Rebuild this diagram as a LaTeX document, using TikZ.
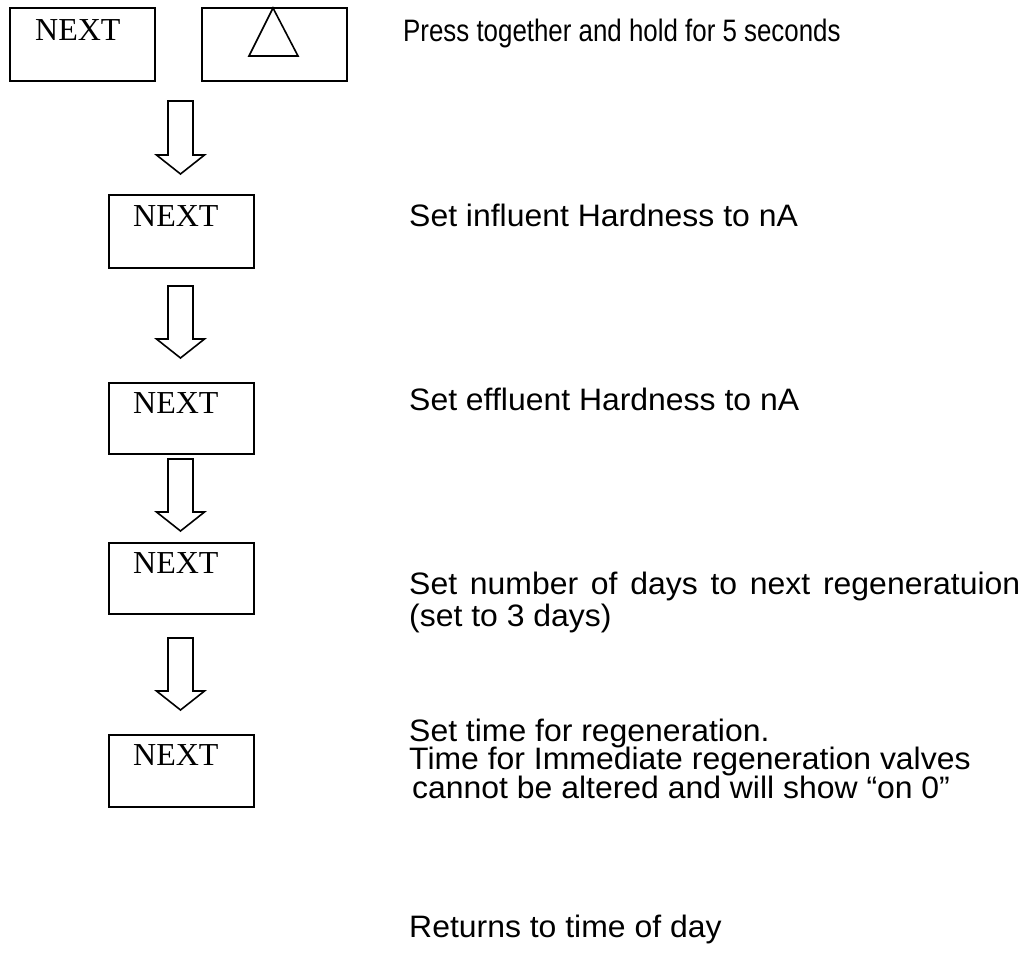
\documentclass[tikz,border=0pt]{standalone}
\usepackage{fontspec}
\setmainfont{Liberation Sans}
\newfontfamily\tnrfont{Liberation Serif}
\newfontfamily\mainfont[FakeStretch=1.03]{Liberation Sans}
\newfontfamily\narrowfont[FakeStretch=0.835]{Liberation Sans}
\newcommand\dnarrow[3]{% x, ytop, ytip
  \draw[blockarrow] (#1-12.5,#2) -- (#1+12.5,#2) -- (#1+12.5,#3-19) -- (#1+24,#3-19)
    -- (#1,#3) -- (#1-24,#3-19) -- (#1-12.5,#3-19) -- cycle;}
\begin{document}
\begin{tikzpicture}[x=1pt,y=-1pt,
  keybox/.style={draw=black, line width=2pt, minimum width=145pt, minimum height=73pt, inner sep=0pt, anchor=north west},
  keytext/.style={anchor=base west, inner sep=0pt, font=\tnrfont\fontsize{32}{36}\selectfont},
  desc/.style={anchor=base west, inner sep=0pt, font=\mainfont\fontsize{31}{36}\selectfont},
  blockarrow/.style={draw=black, line width=1.6pt, line join=miter, fill=white}]
\useasboundingbox (0,0) rectangle (1029,967);
% top pair of keys
\node[keybox] (k1) at (9,7) {};
\node[keytext] (k1t) at (35,40) {NEXT};
\node[keybox] (k2) at (201,7) {};
\draw[line width=1.6pt, line join=miter] (273,8) -- (298,56) -- (249,56) -- cycle;
% step boxes
\node[keybox] (b2) at (108,194) {};
\node[keytext] (b2t) at (133,226) {NEXT};
\node[keybox, minimum height=71pt] (b3) at (108,382) {};
\node[keytext] (b3t) at (133,413) {NEXT};
\node[keybox, minimum height=71pt] (b4) at (108,542) {};
\node[keytext] (b4t) at (133,573) {NEXT};
\node[keybox, minimum height=72pt] (b5) at (108,734) {};
\node[keytext] (b5t) at (133,765) {NEXT};
% block arrows
\dnarrow{180.5}{101}{174}
\dnarrow{180.5}{286}{358}
\dnarrow{180.5}{459}{531}
\dnarrow{180.5}{638}{710}
% descriptions
\node[anchor=base west, inner sep=0pt, font=\narrowfont\fontsize{31}{36}\selectfont] (d1) at (403,41) {Press together and hold for 5 seconds};
\node[desc] (d2) at (409,226) {Set influent Hardness to nA};
\node[desc] (d3) at (409,410) {Set effluent Hardness to nA};
\node[desc] (d4a) at (409,594) {\makebox[611pt][s]{Set number of days to next regeneratuion}};
\node[desc] (d4b) at (409,626) {(set to 3 days)};
\node[desc] (d5a) at (409,741) {Set time for regeneration.};
\node[desc] (d5b) at (409,769) {Time for Immediate regeneration valves};
\node[desc] (d5c) at (412,798) {cannot be altered and will show “on 0”};
\node[desc] (d6) at (409,937) {Returns to time of day};
\end{tikzpicture}
\end{document}
